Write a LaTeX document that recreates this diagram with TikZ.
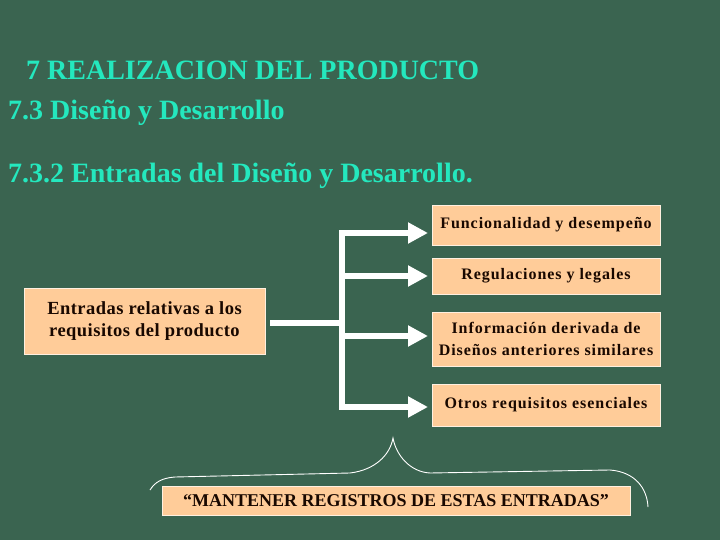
\documentclass[tikz,border=0pt]{standalone}
\usepackage{fontspec}
\setmainfont{Liberation Serif}[BoldFont={Liberation Serif Bold}]
\newfontfamily\boxfont{Liberation Serif Bold}[LetterSpace=6]
\newfontfamily\leftfont{Liberation Serif Bold}[LetterSpace=2.5]
\newfontfamily\ttlfont{Liberation Serif Bold}
\usetikzlibrary{arrows.meta}
\definecolor{bg}{RGB}{58,100,80}
\definecolor{ttl}{RGB}{36,232,190}
\definecolor{peach}{RGB}{255,204,153}
\definecolor{ink}{RGB}{25,8,0}
\tikzset{
  box/.style={fill=peach,draw=white!70!peach,line width=0.8pt,inner sep=0pt,
    align=center,text=ink,font=\boxfont\fontsize{16}{22}\selectfont},
  ttext/.style={anchor=base west,inner sep=0pt,text=ttl,font=\ttlfont\fontsize{28}{30}\selectfont},
  wline/.style={draw=white,line width=6pt},
  arr/.style={wline,-{Triangle[length=20pt,width=20pt]}},
  brace/.style={draw=white,line width=0.9pt}
}
\begin{document}
\begin{tikzpicture}[x=1pt,y=-1pt]
\fill[bg] (0,0) rectangle (720,540);
\useasboundingbox (0,0) rectangle (720,540);

\node[ttext] (t1) at (26,80) {7 REALIZACION DEL PRODUCTO};
\node[ttext] (t2) at (8,120) {7.3 Diseño y Desarrollo};
\node[ttext] (t3) at (8,183) {7.3.2 Entradas del Diseño y Desarrollo.};

\node[box,minimum width=241pt,minimum height=66pt,font=\leftfont\fontsize{18.5}{22}\selectfont] (L) at (144.5,321)
  {Entradas relativas a los\\requisitos del producto};
\node[box,minimum width=228pt,minimum height=40pt] (F) at (546,225) {Funcionalidad y desempeño};
\node[box,minimum width=228pt,minimum height=36pt] (R) at (546,276) {Regulaciones y legales};
\node[box,minimum width=228pt,minimum height=54pt] (I) at (546,339) {Información derivada de\\Diseños anteriores similares};
\node[box,minimum width=228pt,minimum height=42pt] (O) at (546,405) {Otros requisitos esenciales};
\node[box,minimum width=468pt,minimum height=29pt,font=\ttlfont\fontsize{18}{20}\selectfont] (M) at (396,500.5) {“MANTENER REGISTROS DE ESTAS ENTRADAS”};

\coordinate (j) at (342,323);
\coordinate (vF) at (342,233);
\coordinate (vR) at (342,276);
\coordinate (vI) at (342,336);
\coordinate (vO) at (342,407);
\coordinate (eF) at (428,233);
\coordinate (eR) at (428,276);
\coordinate (eI) at (428,336);
\coordinate (eO) at (428,407);

\draw[wline] ([xshift=5pt]L.east |- j) -- (j);
\draw[wline,line cap=rect] (vF) -- (vO);
\draw[arr] (vF) -- (eF);
\draw[arr] (vR) -- (eR);
\draw[arr] (vI) -- (eI);
\draw[arr] (vO) -- (eO);

\draw[brace] (150,490) .. controls (155,482) and (162,478) .. (175,477)
  -- (350,473) .. controls (375,470) and (390,455) .. (393,438)
  .. controls (396,455) and (410,472) .. (430,473)
  -- (610,470) .. controls (635,472) and (647,488) .. (648,507);
\end{tikzpicture}
\end{document}
